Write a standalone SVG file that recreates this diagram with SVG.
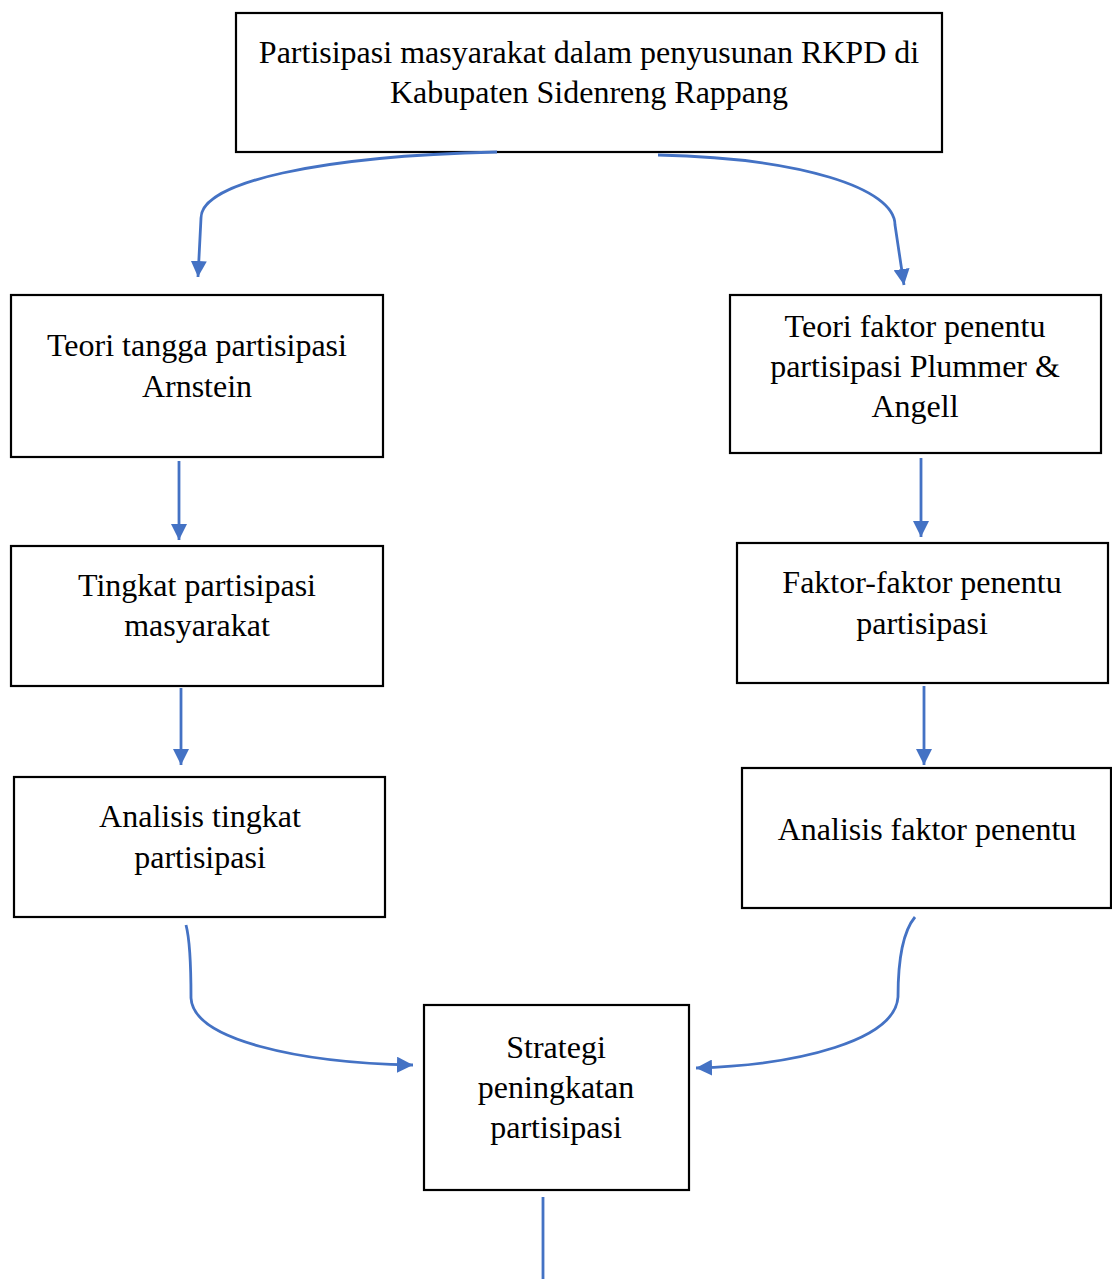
<svg xmlns="http://www.w3.org/2000/svg" width="1112" height="1279" viewBox="0 0 1112 1279">
<style>
.box{fill:#fff;stroke:#000;stroke-width:2.2}
.t{font-family:"Liberation Serif","Times New Roman",serif;font-size:32px;fill:#000;text-anchor:middle}
.c{fill:none;stroke:#4472C4;stroke-width:2.8}
</style>
<defs>
<marker id="ah" markerUnits="userSpaceOnUse" markerWidth="18" markerHeight="16" refX="16" refY="8" orient="auto">
<path d="M0,0 L16,8 L0,16 Z" fill="#4472C4"/>
</marker>
</defs>
<rect width="1112" height="1279" fill="#fff"/>
<g id="n-top">
<rect class="box" x="236" y="13" width="706" height="139"/>
<text class="t" x="589" y="63">Partisipasi masyarakat dalam penyusunan RKPD di</text>
<text class="t" x="589" y="103">Kabupaten Sidenreng Rappang</text>
</g>
<g id="n-l1">
<rect class="box" x="11" y="295" width="372" height="162"/>
<text class="t" x="197" y="356">Teori tangga partisipasi</text>
<text class="t" x="197" y="397">Arnstein</text>
</g>
<g id="n-r1">
<rect class="box" x="730" y="295" width="371" height="158"/>
<text class="t" x="915" y="337">Teori faktor penentu</text>
<text class="t" x="915" y="377">partisipasi Plummer &amp;</text>
<text class="t" x="915" y="417">Angell</text>
</g>
<g id="n-l2">
<rect class="box" x="11" y="546" width="372" height="140"/>
<text class="t" x="197" y="596">Tingkat partisipasi</text>
<text class="t" x="197" y="636">masyarakat</text>
</g>
<g id="n-r2">
<rect class="box" x="737" y="543" width="371" height="140"/>
<text class="t" x="922" y="593">Faktor-faktor penentu</text>
<text class="t" x="922" y="634">partisipasi</text>
</g>
<g id="n-l3">
<rect class="box" x="14" y="777" width="371" height="140"/>
<text class="t" x="200" y="827">Analisis tingkat</text>
<text class="t" x="200" y="868">partisipasi</text>
</g>
<g id="n-r3">
<rect class="box" x="742" y="768" width="369" height="140"/>
<text class="t" x="927" y="840">Analisis faktor penentu</text>
</g>
<g id="n-bottom">
<rect class="box" x="424" y="1005" width="265" height="185"/>
<text class="t" x="556" y="1058">Strategi</text>
<text class="t" x="556" y="1098">peningkatan</text>
<text class="t" x="556" y="1138">partisipasi</text>
</g>
<g id="connectors">
<path class="c" d="M497,152 C320,156 201,182 201,218 L198,277" marker-end="url(#ah)"/>
<path class="c" d="M658,155 C800,158 895,188 895,225 L904,285" marker-end="url(#ah)"/>
<path class="c" d="M179,461 L179,540" marker-end="url(#ah)"/>
<path class="c" d="M181,688 L181,765" marker-end="url(#ah)"/>
<path class="c" d="M921,458 L921,537" marker-end="url(#ah)"/>
<path class="c" d="M924,686 L924,765" marker-end="url(#ah)"/>
<path class="c" d="M186,925 C190,940 191,975 191,998 C193,1040 300,1063 413,1065" marker-end="url(#ah)"/>
<path class="c" d="M915,917 C900,935 898,970 898,997 C895,1040 800,1065 696,1068" marker-end="url(#ah)"/>
<path class="c" d="M543,1197 L543,1279"/>
</g>
</svg>
